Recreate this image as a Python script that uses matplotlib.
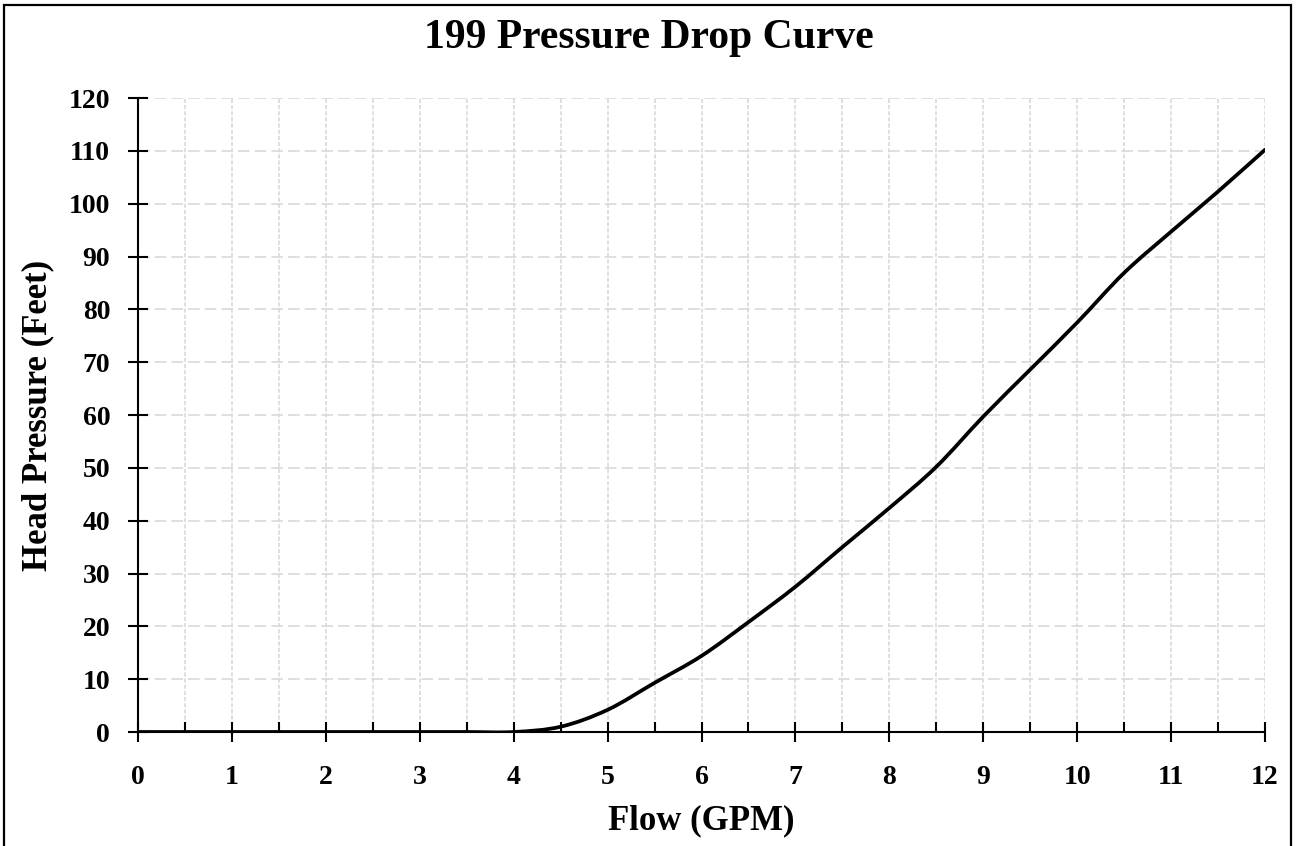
import matplotlib.pyplot as plt
from matplotlib.patches import Rectangle, PathPatch
from matplotlib.path import Path
from matplotlib.ticker import MultipleLocator

# Data
flow = [0, 0.5, 1, 1.5, 2, 2.5, 3, 3.5, 4, 4.5, 5, 5.5, 6, 6.5,
        7, 7.5, 8, 8.5, 9, 9.5, 10, 10.5, 11, 11.5, 12]
head = [0, 0, 0, 0, 0, 0, 0, 0, 0, 1.0, 4.2, 9.3, 14.4, 20.8,
        27.5, 35.0, 42.4, 50.2, 59.7, 68.6, 77.5, 86.9, 94.7, 102.3, 110.2]
x_ticks = list(range(0, 13))
y_ticks = list(range(0, 121, 10))

title = "199 Pressure Drop Curve"
xlabel = "Flow (GPM)"
ylabel = "Head Pressure (Feet)"

plt.rcParams['font.family'] = ['Liberation Serif', 'DejaVu Serif']
plt.rcParams['font.weight'] = 'bold'

W, H = 1297, 846
fig = plt.figure(figsize=(W / 100, H / 100), dpi=100)
ax = fig.add_axes([138 / W, 1 - 732 / H, (1265 - 138) / W, (732 - 98) / H])

# grid
ax.set_xticks(x_ticks)
ax.xaxis.set_minor_locator(MultipleLocator(0.5))
ax.set_yticks(y_ticks)
ax.grid(True, axis='y', which='major', color='#d9d9d9', lw=1.2,
        linestyle=(0, (7, 3)))
ax.grid(True, axis='x', which='both', color='#d9d9d9', lw=1.2,
        linestyle=(0, (2.5, 1.2)))
ax.set_axisbelow(True)

# smoothed line through the points (Excel style Catmull-Rom -> Bezier)
n = len(flow)
verts = [(flow[0], head[0])]
codes = [Path.MOVETO]
for i in range(n - 1):
    x0, y0 = flow[max(i - 1, 0)], head[max(i - 1, 0)]
    x1, y1 = flow[i], head[i]
    x2, y2 = flow[i + 1], head[i + 1]
    x3, y3 = flow[min(i + 2, n - 1)], head[min(i + 2, n - 1)]
    verts += [(x1 + (x2 - x0) / 6, y1 + (y2 - y0) / 6),
              (x2 - (x3 - x1) / 6, y2 - (y3 - y1) / 6),
              (x2, y2)]
    codes += [Path.CURVE4] * 3
ax.add_patch(PathPatch(Path(verts, codes), facecolor='none',
                       edgecolor='black', lw=2.7, capstyle='round',
                       zorder=3))

ax.set_xlim(0, 12)
ax.set_ylim(0, 120)

for s in ['top', 'right']:
    ax.spines[s].set_visible(False)
for s in ['left', 'bottom']:
    ax.spines[s].set_linewidth(1.5)
    ax.spines[s].set_zorder(4)

ax.tick_params(axis='both', which='major', direction='inout', length=14,
               width=1.5, labelsize=20, color='black')
ax.tick_params(axis='x', which='major', pad=17)
ax.tick_params(axis='y', which='major', pad=13)
ax.tick_params(axis='x', which='minor', direction='in', length=7, width=1.5)
for lbl in ax.get_xticklabels() + ax.get_yticklabels():
    lbl.set_fontweight('bold')

fig.text(649 / W, 1 - 38 / H, title, ha='center', va='center',
         fontsize=30, fontweight='bold')
fig.text(701 / W, 1 - 821 / H, xlabel, ha='center', va='center',
         fontsize=25, fontweight='bold')
fig.text(38 / W, 1 - 415 / H, ylabel, ha='center', va='center',
         rotation=90, fontsize=25, fontweight='bold')

# outer border
fig.patches.append(Rectangle((4 / W, -0.02), (1291 - 4) / W, 1 - 5 / H + 0.02,
                             transform=fig.transFigure, fill=False,
                             edgecolor='black', lw=1.6))

fig.savefig("out.png", dpi=100)
